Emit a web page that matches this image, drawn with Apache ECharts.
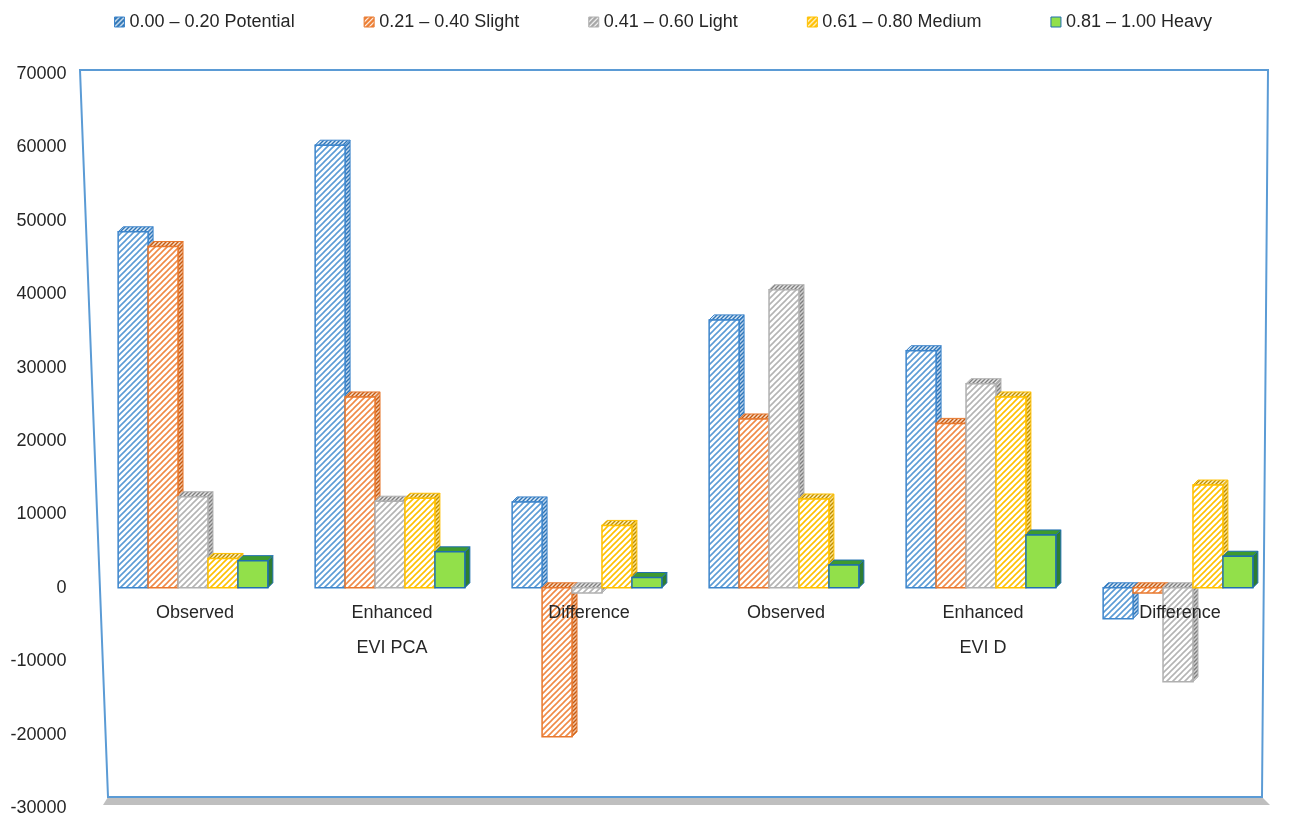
<!DOCTYPE html>
<html><head><meta charset="utf-8">
<script src="https://cdn.jsdelivr.net/npm/echarts@6/dist/echarts.min.js"></script>
<style>html,body{margin:0;padding:0;background:#fff}#c{width:1295px;height:813px}</style>
</head><body><div id="c"></div>
<script>
// ---- data ----
const categories = ['Observed', 'Enhanced', 'Difference', 'Observed', 'Enhanced', 'Difference'];
const groupLabels = ['', 'EVI PCA', '', '', 'EVI D', ''];
const seriesNames = ['0.00 – 0.20 Potential', '0.21 – 0.40 Slight', '0.41 – 0.60 Light', '0.61 – 0.80 Medium', '0.81 – 1.00 Heavy'];
const potential = [48500, 60300, 11700, 36500, 32300, -4200];
const slight    = [46500, 26000, -20300, 23000, 22400, -700];
const light     = [12400, 11800, -700, 40600, 27800, -12800];
const medium    = [4000, 12200, 8500, 12100, 26000, 14000];
const heavy     = [3700, 4900, 1400, 3100, 7200, 4300];
const yMin = -30000, yMax = 70000, yStep = 10000;

const seriesValues = [potential, slight, light, medium, heavy];

// ---- styles ----
function hatch(line, bg, s, lw) {
  const c = document.createElement('canvas');
  c.width = s; c.height = s;
  const g = c.getContext('2d');
  g.fillStyle = bg; g.fillRect(0, 0, s, s);
  g.strokeStyle = line; g.lineWidth = lw;
  g.beginPath();
  g.moveTo(-1, s + 1); g.lineTo(s + 1, -1);
  g.moveTo(-1, 1); g.lineTo(1, -1);
  g.moveTo(s - 1, s + 1); g.lineTo(s + 1, s - 1);
  g.stroke();
  return { image: c, repeat: 'repeat' };
}
function solid(c) { return c; }

const styles = [
  { front: hatch('#5B9BD5', '#ffffff', 6, 1.6), top: hatch('#2E75B6', '#dbe8f6', 4, 1.4), side: hatch('#2E75B6', '#bcd4ee', 4, 1.4), stroke: '#3D85CC', legend: hatch('#ffffff', '#2E75B6', 5, 1.2) },
  { front: hatch('#F08A46', '#ffffff', 6, 1.6), top: hatch('#C55A11', '#f8dcc7', 4, 1.4), side: hatch('#C55A11', '#f2c4a3', 4, 1.4), stroke: '#E8782E', legend: hatch('#ffffff', '#ED7D31', 5, 1.2) },
  { front: hatch('#B4B4B4', '#ffffff', 6, 1.6), top: hatch('#7F7F7F', '#e6e6e6', 4, 1.4), side: hatch('#7F7F7F', '#d0d0d0', 4, 1.4), stroke: '#B0B0B0', legend: hatch('#ffffff', '#A5A5A5', 5, 1.2) },
  { front: hatch('#FFC000', '#ffffff', 6, 1.6), top: hatch('#BF9000', '#fff0c0', 4, 1.4), side: hatch('#BF9000', '#ffe28a', 4, 1.4), stroke: '#FFC000', legend: hatch('#ffffff', '#FFC000', 5, 1.2) },
  { front: solid('#92E04A'), top: solid('#3E9A2E'), side: solid('#2E7D32'), stroke: '#1F6FB0', legend: solid('#92E04A') }
];

function makeRender(si) {
  const st = styles[si];
  return function (params, api) {
    const ci = api.value(0);
    const v = api.value(1);
    const band = api.size([1, 0])[0];
    const bw = band * 0.152;
    const c0 = api.coord([ci, 0]);
    const cv = api.coord([ci, v]);
    const x0 = c0[0] - 2.5 * bw + si * bw - 2;
    const yTop = Math.min(c0[1], cv[1]);
    const yBot = Math.max(c0[1], cv[1]);
    const dx = 5, dy = 5;
    const x1 = x0 + bw;
    return {
      type: 'group',
      children: [
        { type: 'polygon', shape: { points: [[x1, yTop], [x1 + dx, yTop - dy], [x1 + dx, yBot - dy], [x1, yBot]] },
          style: { fill: st.side, stroke: st.stroke, lineWidth: 1 } },
        { type: 'polygon', shape: { points: [[x0, yTop], [x0 + dx, yTop - dy], [x1 + dx, yTop - dy], [x1, yTop]] },
          style: { fill: st.top, stroke: st.stroke, lineWidth: 1 } },
        { type: 'rect', shape: { x: x0, y: yTop, width: bw, height: yBot - yTop },
          style: { fill: st.front, stroke: st.stroke, lineWidth: 1.5 } }
      ]
    };
  };
}

const chart = echarts.init(document.getElementById('c'), null, { renderer: 'canvas' });

const series = seriesNames.map((name, si) => ({
  type: 'custom',
  name: name,
  renderItem: makeRender(si),
  encode: { x: 0, y: 1 },
  itemStyle: { color: styles[si].legend, borderColor: styles[si].stroke, borderWidth: 1 },
  data: seriesValues[si].map((v, i) => [i, v]),
  z: 3
}));

chart.setOption({
  animation: false,
  backgroundColor: '#ffffff',
  textStyle: { fontFamily: 'Liberation Sans, Arial, sans-serif' },
  legend: {
    left: 109, top: 8,
    icon: 'rect', itemWidth: 10, itemHeight: 10, itemGap: 69,
    textStyle: { fontSize: 18, color: '#262626', fontFamily: 'Liberation Sans, Arial, sans-serif' },
    data: seriesNames.map((n, si) => ({ name: n, itemStyle: { color: styles[si].legend, borderColor: styles[si].stroke, borderWidth: 1 } }))
  },
  graphic: [
    { type: 'polygon', z: -10, silent: true,
      shape: { points: [[108, 797], [1262, 797], [1270, 805], [103, 805]] },
      style: { fill: '#BFBFBF', stroke: null } },
    { type: 'polygon', z: -9, silent: true,
      shape: { points: [[80, 70], [1268, 70], [1262, 797], [108, 797]] },
      style: { fill: 'none', stroke: '#5B9BD5', lineWidth: 2 } }
  ],
  grid: { left: 96.5, right: 16.5, top: 74, bottom: 5, containLabel: false, outerBoundsMode: 'none' },
  xAxis: {
    type: 'category',
    data: categories,
    z: 10,
    axisLine: { show: false, onZero: false },
    axisTick: { show: false },
    splitLine: { show: false },
    axisLabel: {
      interval: 0, margin: -212, fontSize: 18, lineHeight: 35, color: '#262626',
      formatter: (val, idx) => groupLabels[idx] ? val + '\n' + groupLabels[idx] : val
    }
  },
  yAxis: {
    type: 'value', min: yMin, max: yMax, interval: yStep,
    axisLine: { show: false }, axisTick: { show: false }, splitLine: { show: false },
    axisLabel: { fontSize: 18, color: '#262626', margin: 30, formatter: v => String(v) }
  },
  series: series
});
</script>
</body></html>
